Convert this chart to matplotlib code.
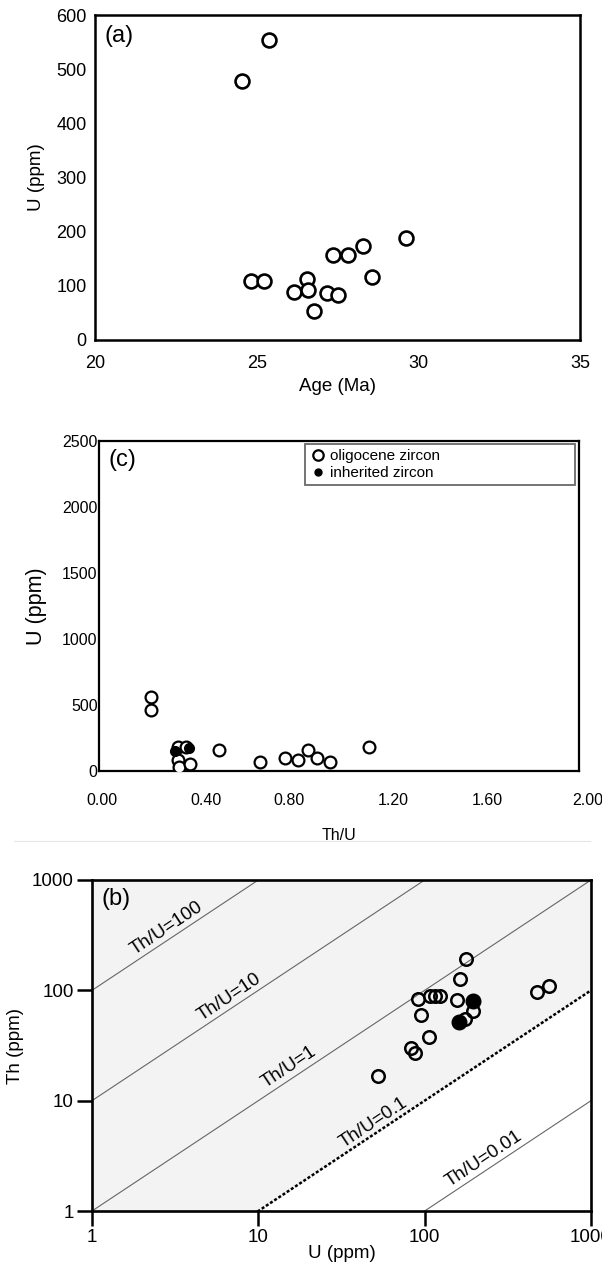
import numpy as np
import matplotlib
matplotlib.use("Agg")
import matplotlib.pyplot as plt
from matplotlib.lines import Line2D
from matplotlib.transforms import ScaledTranslation

plt.rcParams['font.family'] = ['Liberation Sans', 'DejaVu Sans']

# ---------------- data ----------------
# panel (a): Age vs U
age_a = [24.56, 25.37, 24.83, 25.23, 26.17, 26.56, 26.60, 26.77, 27.17, 27.35, 27.50, 27.82, 28.28, 28.57, 29.62]
u_a = [478, 553, 108, 108, 88, 113, 93, 53, 86, 156, 83, 156, 174, 116, 188]

# panel (c): Th/U vs U
thu_open = [0.215, 0.218, 0.33, 0.362, 0.33, 0.335, 0.379, 0.501, 0.671, 0.775, 0.83, 0.869, 0.907, 0.9625, 1.126]
u_open = [557, 461, 182, 182, 81, 30, 55, 157, 71, 101, 81, 160, 96, 71, 182]
thu_inh = [0.317, 0.375]
u_inh = [152, 172]

# panel (b): U vs Th (log-log)
u_b_open = [52.3, 82.6, 87, 105.7, 94.4, 91.4, 107, 115, 123.7, 155.6, 163, 177, 195, 174, 471, 557]
th_b_open = [16.7, 30.1, 26.8, 37.9, 59.2, 82.6, 89.3, 89, 89, 81, 126, 190.6, 65.3, 54.5, 97, 110]
u_b_inh = [161, 195]
th_b_inh = [51.5, 79.8]

ratios = [100, 10, 1, 0.1, 0.01]
ratio_labels = ['Th/U=100', 'Th/U=10', 'Th/U=1', 'Th/U=0.1', 'Th/U=0.01']
ratio_label_x = [2.67, 6.32, 14.5, 46.2, 214]

a_xticks = [20, 25, 30, 35]
a_yticks = [0, 100, 200, 300, 400, 500, 600]
c_xticks = [0.0, 0.4, 0.8, 1.2, 1.6, 2.0]
c_yticks = [0, 500, 1000, 1500, 2000, 2500]
b_ticks = [1, 10, 100, 1000]

W, H = 602, 1263
fig = plt.figure(figsize=(W / 100, H / 100), dpi=100)


def rect(l, r, t, b):
    return [l / W, 1 - b / H, (r - l) / W, (b - t) / H]


# ---------------- panel (a) ----------------
ax = fig.add_axes(rect(95, 580, 15, 340))
ax.scatter(age_a, u_a, s=100, facecolors='white', edgecolors='black', linewidths=1.9, zorder=3)
ax.set_xlim(20, 35)
ax.set_ylim(0, 600)
ax.set_xticks(a_xticks)
ax.set_yticks(a_yticks)
ax.set_xticks(a_xticks[1:-1], minor=True)
ax.set_yticks(a_yticks[1:-1], minor=True)
ax.tick_params(which='major', length=0, labelsize=13)
ax.tick_params(axis='y', which='major', pad=6)
ax.tick_params(axis='x', which='major', pad=11)
ax.tick_params(which='minor', direction='in', length=10, width=2.2)
for s in ax.spines.values():
    s.set_linewidth(1.8)
ax.set_xlabel('Age (Ma)', fontsize=13.5, labelpad=4)
ax.set_ylabel('U (ppm)', fontsize=13.5, labelpad=8)
ax.text(0.02, 0.97, '(a)', transform=ax.transAxes, fontsize=17, va='top', ha='left')

# ---------------- panel (c) ----------------
ax = fig.add_axes(rect(99, 579, 441, 771))
ax.plot(thu_open, u_open, 'o', ms=8.5, mfc='white', mec='black', mew=1.6, ls='none', zorder=3)
ax.plot(thu_inh, u_inh, 'o', ms=7, mfc='black', mec='black', ls='none', zorder=4)
ax.set_xlim(0, 2.0)
ax.set_ylim(0, 2500)
ax.set_xticks(c_xticks)
ax.set_xticklabels([f'{v:.2f}' for v in c_xticks])
ax.set_yticks(c_yticks)
ax.set_xticks(c_xticks[1:-1], minor=True)
ax.set_yticks(c_yticks[1:-1], minor=True)
ax.tick_params(which='major', length=0, labelsize=11.5)
ax.tick_params(axis='y', which='major', pad=1)
ax.tick_params(axis='x', which='major', pad=16)
ax.tick_params(which='minor', direction='in', length=11, width=2.0)
label_shift_px = [3, 11, -2, 6, 4, 9]
for lbl, dx in zip(ax.get_xticklabels(), label_shift_px):
    lbl.set_transform(lbl.get_transform() + ScaledTranslation(dx / 100, 0, fig.dpi_scale_trans))
for s in ax.spines.values():
    s.set_linewidth(1.6)
ax.set_xlabel('Th/U', fontsize=11.5, labelpad=14)
ax.set_ylabel('U (ppm)', fontsize=15.5, labelpad=11)
ax.text(0.02, 0.975, '(c)', transform=ax.transAxes, fontsize=17, va='top', ha='left')
handles = [Line2D([], [], marker='o', ls='none', ms=7.5, mfc='white', mec='black', mew=1.6),
           Line2D([], [], marker='o', ls='none', ms=5, mfc='black', mec='black')]
leg = ax.legend(handles, ['oligocene zircon', 'inherited zircon'], loc='upper left',
                bbox_to_anchor=(0.43, 0.858, 0.562, 0.132), mode='expand', borderaxespad=0,
                fontsize=11, frameon=True, fancybox=False, handletextpad=0.3,
                handlelength=1.0, labelspacing=0.2, borderpad=0.3)
leg.get_frame().set_edgecolor('#444444')
leg.get_frame().set_linewidth(1.3)

# separator line
fig.add_artist(Line2D([14 / W, 590 / W], [1 - 841 / H, 1 - 841 / H], color='#e6e6e6', lw=0.8))

# ---------------- panel (b) ----------------
ax = fig.add_axes(rect(92, 591, 880, 1211))
ax.set_xscale('log')
ax.set_yscale('log')
ax.set_xlim(1, 1000)
ax.set_ylim(1, 1000)
xx = np.array([1, 1000])
# shading above Th/U = 0.1
ax.fill_between(xx, 0.1 * xx, 1000, color='#f3f3f3', zorder=0)
for r in ratios:
    if r == 0.1:
        ax.plot(xx, r * xx, color='black', lw=1.8, ls=(0, (1.2, 0.8)), zorder=1)
    else:
        ax.plot(xx, r * xx, color='#666666', lw=0.8, zorder=1)
# label angle from display coordinates
p0 = ax.transData.transform((1, 1))
p1 = ax.transData.transform((1000, 1000))
ang = np.degrees(np.arctan2(p1[1] - p0[1], p1[0] - p0[0]))
for r, lab, lx in zip(ratios, ratio_labels, ratio_label_x):
    ax.annotate(lab, (lx, r * lx), xytext=(3, 11), textcoords='offset points',
                rotation=ang, rotation_mode='anchor', ha='center', va='center', fontsize=13.5)
ax.plot(u_b_open, th_b_open, 'o', ms=9, mfc='none', mec='black', mew=1.8, ls='none', zorder=3)
ax.plot(u_b_inh, th_b_inh, 'o', ms=10.5, mfc='black', mec='black', ls='none', zorder=4)
ax.set_xticks(b_ticks)
ax.set_yticks(b_ticks)
ax.set_xticklabels([str(v) for v in b_ticks])
ax.set_yticklabels([str(v) for v in b_ticks])
ax.minorticks_off()
ax.tick_params(which='major', direction='out', length=11, width=1.8, labelsize=13.5, pad=2)
for s in ax.spines.values():
    s.set_linewidth(1.9)
ax.set_xlabel('U (ppm)', fontsize=13.5, labelpad=-1)
ax.set_ylabel('Th (ppm)', fontsize=13.5, labelpad=6)
ax.text(0.02, 0.975, '(b)', transform=ax.transAxes, fontsize=17, va='top', ha='left')

fig.savefig('out.png', dpi=100)
